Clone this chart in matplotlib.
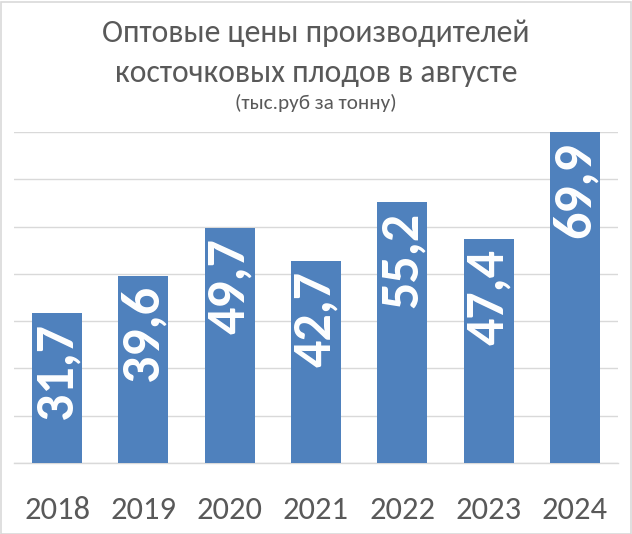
import matplotlib
matplotlib.use("Agg")
import matplotlib.pyplot as plt
from matplotlib.patches import Rectangle
from matplotlib import font_manager as fm

years = ["2018", "2019", "2020", "2021", "2022", "2023", "2024"]
values = [31.7, 39.6, 49.7, 42.7, 55.2, 47.4, 69.9]
labels = ["31,7", "39,6", "49,7", "42,7", "55,2", "47,4", "69,9"]

title1 = "Оптовые цены производителей"
title2 = "косточковых плодов в августе"
subtitle = "(тыс.руб за тонну)"

available = {f.name for f in fm.fontManager.ttflist}
font = "Open Sans"
for cand in ["Carlito", "Calibri", "Open Sans"]:
    if cand in available:
        font = cand
        break
plt.rcParams['font.family'] = [font, 'DejaVu Sans']

W, H = 632, 534
fig = plt.figure(figsize=(W / 100, H / 100), dpi=100)
fig.patch.set_facecolor("white")

fig.patches.append(Rectangle((0.5 / W, 0.5 / H), 1 - 2 / W, 1 - 2 / H,
                             transform=fig.transFigure, fill=False,
                             edgecolor="#D9D9D9", linewidth=1.2))

left, right = 14 / W, 618 / W
bottom = (H - 463) / H
top = (H - 132) / H
ax = fig.add_axes([left, bottom, right - left, top - bottom])

x = list(range(len(years)))
ax.bar(x, values, width=0.58, color="#4F81BD", zorder=3)
ax.set_xlim(-0.5, len(years) - 0.5)
ax.set_ylim(0, 70)
ax.set_yticks(range(0, 71, 10))
ax.yaxis.grid(True, color="#D9D9D9", linewidth=1.0, zorder=0)
ax.set_axisbelow(True)
for s in ["top", "right", "left"]:
    ax.spines[s].set_visible(False)
ax.spines["bottom"].set_color("#D9D9D9")
ax.spines["bottom"].set_linewidth(1.0)
ax.tick_params(axis="y", left=False, labelleft=False)
ax.tick_params(axis="x", bottom=False, pad=20)
ax.set_xticks(x)
ax.set_xticklabels(years, fontsize=21, color="#595959")

bar_texts = []
for xi, v, lab in zip(x, values, labels):
    t = ax.annotate(lab, (xi, v), xytext=(0, -7), textcoords="offset points",
                    rotation=90, ha="center", va="top", color="white",
                    fontsize=30, fontweight="bold", zorder=4)
    bar_texts.append(t)

t1 = fig.text(0.5, (H - 42) / H, title1, ha="center", va="baseline",
              fontsize=22, color="#595959")
t2 = fig.text(0.5, (H - 82) / H, title2, ha="center", va="baseline",
              fontsize=22, color="#595959")
t3 = fig.text(0.5, (H - 109) / H, subtitle, ha="center", va="baseline",
              fontsize=12, color="#595959")

# fit font sizes to the widths measured in the reference
renderer = fig.canvas.get_renderer()

def fit(t, target, horizontal=True):
    for _ in range(3):
        bb = t.get_window_extent(renderer)
        cur = bb.width if horizontal else bb.height
        t.set_fontsize(t.get_fontsize() * target / cur)

fit(t1, 428)
t2.set_fontsize(t1.get_fontsize())
fit(t3, 161)
for t in ax.get_xticklabels():
    fit(t, 66)
for t in bar_texts:
    fit(t, 96, horizontal=False)

fig.savefig("out.png", dpi=100, facecolor="white")
